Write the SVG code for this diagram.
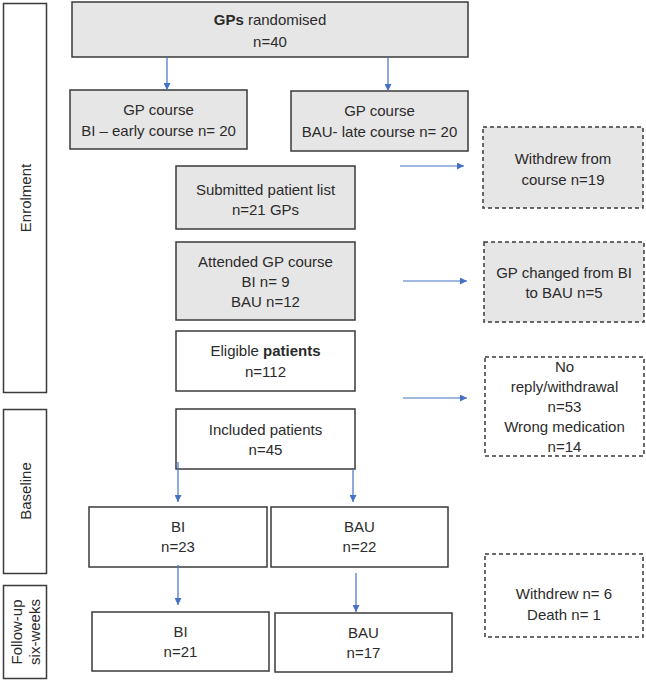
<svg xmlns="http://www.w3.org/2000/svg" width="646" height="681" viewBox="0 0 646 681">
<defs>
<marker id="ah" viewBox="0 0 10 10" refX="10" refY="5" markerWidth="7" markerHeight="7" orient="auto" markerUnits="userSpaceOnUse">
<path d="M0,0 L10,5 L0,10 z" fill="#4472c4"/>
</marker>
<style>
.box{fill:#ffffff;stroke:#3a3a3a;stroke-width:1.5}
.grey{fill:#e7e6e6}
.dash{stroke-dasharray:4 3}
.t{font-family:"Liberation Sans",Arial,sans-serif;font-size:15px;fill:#2b2b2b;text-anchor:middle}
.b{font-weight:bold}
.arr{stroke:#4472c4;stroke-width:1.2;fill:none;marker-end:url(#ah)}
</style>
</defs>
<rect width="646" height="681" fill="#ffffff"/>

<g id="stage-enrolment">
<rect class="box" x="3.5" y="3.5" width="43" height="389"/>
<text class="t" transform="translate(31,198) rotate(-90)">Enrolment</text>
</g>
<g id="stage-baseline">
<rect class="box" x="3.5" y="409.5" width="43" height="164"/>
<text class="t" transform="translate(31,491) rotate(-90)">Baseline</text>
</g>
<g id="stage-followup">
<rect class="box" x="3.5" y="585.5" width="43" height="93"/>
<text class="t" transform="translate(22,632) rotate(-90)">Follow-up</text>
<text class="t" transform="translate(40,632) rotate(-90)">six-weeks</text>
</g>

<g id="randomised">
<rect class="box grey" x="72" y="2" width="396" height="55"/>
<text class="t" x="270" y="25"><tspan class="b">GPs</tspan> randomised</text>
<text class="t" x="270" y="47">n=40</text>
</g>
<g id="course-bi">
<rect class="box grey" x="70" y="90" width="177" height="59"/>
<text class="t" x="158.5" y="115">GP course</text>
<text class="t" x="158.5" y="136">BI – early course n= 20</text>
</g>
<g id="course-bau">
<rect class="box grey" x="291" y="91" width="177" height="60"/>
<text class="t" x="379.5" y="116">GP course</text>
<text class="t" x="379.5" y="137">BAU- late course n= 20</text>
</g>
<g id="withdrew-course">
<rect class="box grey dash" x="483" y="127" width="160" height="81"/>
<text class="t" x="563" y="164">Withdrew from</text>
<text class="t" x="563" y="185">course n=19</text>
</g>
<g id="submitted">
<rect class="box grey" x="176" y="166" width="179" height="63"/>
<text class="t" x="265.5" y="195">Submitted patient list</text>
<text class="t" x="265.5" y="215">n=21 GPs</text>
</g>
<g id="attended">
<rect class="box grey" x="176" y="242" width="179" height="78"/>
<text class="t" x="265.5" y="267">Attended GP course</text>
<text class="t" x="265.5" y="287">BI n= 9</text>
<text class="t" x="265.5" y="307">BAU n=12</text>
</g>
<g id="changed">
<rect class="box grey dash" x="484" y="242" width="160" height="80"/>
<text class="t" x="564" y="278">GP changed from BI</text>
<text class="t" x="564" y="298">to BAU n=5</text>
</g>
<g id="eligible">
<rect class="box" x="176" y="331" width="179" height="60"/>
<text class="t" x="265.5" y="356">Eligible <tspan class="b">patients</tspan></text>
<text class="t" x="265.5" y="377">n=112</text>
</g>
<g id="noreply">
<rect class="box dash" x="485" y="357" width="159" height="99"/>
<text class="t" x="564.5" y="372">No</text>
<text class="t" x="564.5" y="392">reply/withdrawal</text>
<text class="t" x="564.5" y="412">n=53</text>
<text class="t" x="564.5" y="432">Wrong medication</text>
<text class="t" x="564.5" y="452">n=14</text>
</g>
<g id="included">
<rect class="box" x="176" y="409" width="179" height="60"/>
<text class="t" x="265.5" y="435">Included patients</text>
<text class="t" x="265.5" y="455">n=45</text>
</g>
<g id="bi-baseline">
<rect class="box" x="89" y="507" width="178" height="60"/>
<text class="t" x="178" y="532">BI</text>
<text class="t" x="178" y="552">n=23</text>
</g>
<g id="bau-baseline">
<rect class="box" x="271" y="507" width="177" height="60"/>
<text class="t" x="359.5" y="532">BAU</text>
<text class="t" x="359.5" y="552">n=22</text>
</g>
<g id="withdrew-followup">
<rect class="box dash" x="485" y="554" width="158" height="83"/>
<text class="t" x="564" y="599">Withdrew n= 6</text>
<text class="t" x="564" y="620">Death n= 1</text>
</g>
<g id="bi-followup">
<rect class="box" x="92" y="612" width="177" height="59"/>
<text class="t" x="180.5" y="637">BI</text>
<text class="t" x="180.5" y="657">n=21</text>
</g>
<g id="bau-followup">
<rect class="box" x="275" y="613" width="177" height="59"/>
<text class="t" x="363.5" y="638">BAU</text>
<text class="t" x="363.5" y="658">n=17</text>
</g>

<g id="connectors">
<line class="arr" x1="167" y1="57" x2="167" y2="90"/>
<line class="arr" x1="388" y1="57" x2="388" y2="91"/>
<line class="arr" x1="400" y1="166" x2="464" y2="166"/>
<line class="arr" x1="403" y1="281" x2="467" y2="281"/>
<line class="arr" x1="403" y1="398" x2="467" y2="398"/>
<line class="arr" x1="178" y1="462" x2="178" y2="502"/>
<line class="arr" x1="353" y1="469" x2="353" y2="502"/>
<line class="arr" x1="178" y1="565" x2="178" y2="605"/>
<line class="arr" x1="356" y1="573" x2="356" y2="612"/>
</g>
</svg>
